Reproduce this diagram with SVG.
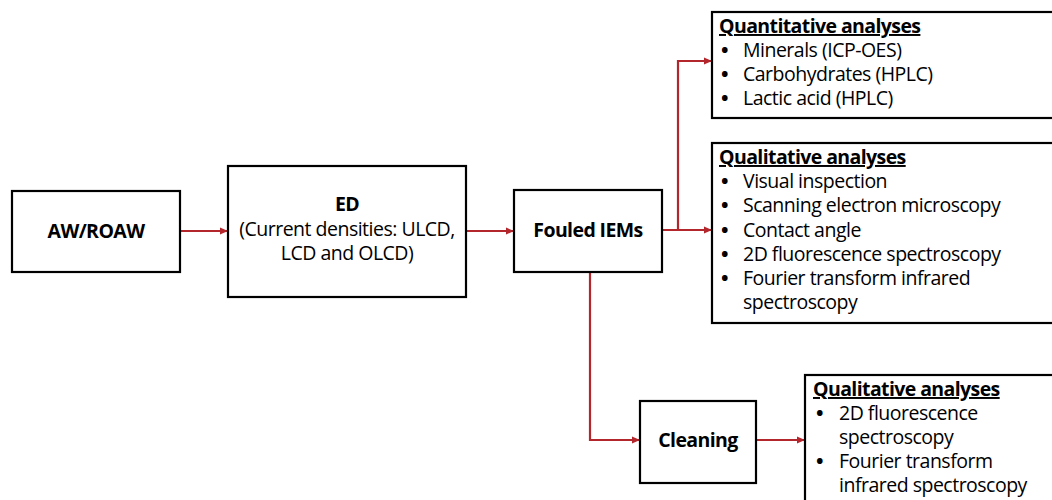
<svg xmlns="http://www.w3.org/2000/svg" width="1052" height="500" viewBox="0 0 1052 500">
<defs>
<marker id="ah" markerWidth="8" markerHeight="8" refX="7" refY="4" orient="auto" markerUnits="userSpaceOnUse">
<path d="M0,0.5 L8,4 L0,7.5 Z" fill="#b3262c"/>
</marker>
<style>
.box{fill:#fff;stroke:#000;stroke-width:2.2}
.t{font-family:"Open Sans","Noto Sans","DejaVu Sans",sans-serif;font-size:19.5px;fill:#000;letter-spacing:-0.5px}
.b{font-weight:bold;letter-spacing:-0.6px}
.u{text-decoration:underline}
.c{text-anchor:middle}
.d{font-size:20px;font-weight:bold}
.con{fill:none;stroke:#b3262c;stroke-width:2.2}
</style>
</defs>
<rect width="1052" height="500" fill="#fff"/>
<g id="connectors">
<path class="con" d="M180,231 H227" marker-end="url(#ah)"/>
<path class="con" d="M466,231 H513" marker-end="url(#ah)"/>
<path class="con" d="M662,230 H711" marker-end="url(#ah)"/>
<path class="con" d="M678,230 V61 H711" marker-end="url(#ah)"/>
<path class="con" d="M590,272 V440 H639" marker-end="url(#ah)"/>
<path class="con" d="M756,440 H804" marker-end="url(#ah)"/>
</g>
<g id="aw">
<rect class="box" x="12" y="191" width="168" height="81"/>
<text class="t b c" x="96" y="238">AW/ROAW</text>
</g>
<g id="ed">
<rect class="box" x="228" y="166" width="238" height="131"/>
<text class="t b c" x="347" y="211">ED</text>
<text class="t c" x="347" y="236">(Current densities: ULCD,</text>
<text class="t c" x="347" y="260">LCD and OLCD)</text>
</g>
<g id="fouled">
<rect class="box" x="514" y="190" width="148" height="82"/>
<text class="t b c" x="588" y="237">Fouled IEMs</text>
</g>
<g id="quant">
<rect class="box" x="712" y="12" width="360" height="106"/>
<text class="t b u" x="719" y="33">Quantitative analyses</text>
<text class="t d" x="721" y="57">•</text><text class="t" x="743" y="57">Minerals (ICP-OES)</text>
<text class="t d" x="721" y="81">•</text><text class="t" x="743" y="81">Carbohydrates (HPLC)</text>
<text class="t d" x="721" y="105">•</text><text class="t" x="743" y="105">Lactic acid (HPLC)</text>
</g>
<g id="qual">
<rect class="box" x="712" y="143" width="360" height="180"/>
<text class="t b u" x="719" y="164">Qualitative analyses</text>
<text class="t d" x="721" y="188">•</text><text class="t" x="743" y="188">Visual inspection</text>
<text class="t d" x="721" y="212">•</text><text class="t" x="743" y="212">Scanning electron microscopy</text>
<text class="t d" x="721" y="237">•</text><text class="t" x="743" y="237">Contact angle</text>
<text class="t d" x="721" y="261">•</text><text class="t" x="743" y="261">2D fluorescence spectroscopy</text>
<text class="t d" x="721" y="285">•</text><text class="t" x="743" y="285">Fourier transform infrared</text>
<text class="t" x="743" y="309">spectroscopy</text>
</g>
<g id="cleaning">
<rect class="box" x="640" y="401" width="116" height="82"/>
<text class="t b c" x="698" y="447">Cleaning</text>
</g>
<g id="qual2">
<rect class="box" x="805" y="375" width="270" height="140"/>
<text class="t b u" x="813" y="396">Qualitative analyses</text>
<text class="t d" x="816" y="420">•</text><text class="t" x="839" y="420">2D fluorescence</text>
<text class="t" x="839" y="444">spectroscopy</text>
<text class="t d" x="816" y="468">•</text><text class="t" x="839" y="468">Fourier transform</text>
<text class="t" x="839" y="492">infrared spectroscopy</text>
</g>
</svg>
